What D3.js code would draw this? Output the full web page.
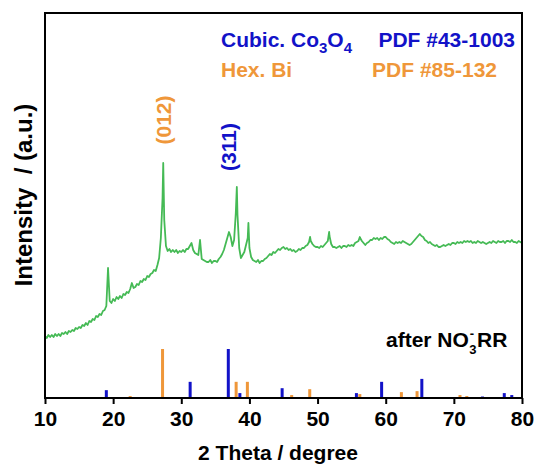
<!DOCTYPE html>
<html>
<head>
<meta charset="utf-8">
<script src="https://cdn.jsdelivr.net/npm/d3@7"></script>
<style>
  html, body { margin: 0; padding: 0; background: #fff; }
  svg { display: block; }
  text { font-family: "Liberation Sans", Arial, sans-serif; font-weight: bold; }
</style>
</head>
<body>
<svg id="chart" width="537" height="467"></svg>
<script>
// XRD pattern after NO3-RR, sampled every 0.25 degree from 10 to 80 (a.u.)
const thetaStart = 10;
const thetaStep = 0.25;
const intensity = [
  62, 60, 63, 61,
  63, 61, 64, 62,
  64, 62, 65, 64,
  66, 64, 67, 66,
  68, 67, 70, 69,
  71, 70, 73, 72,
  75, 73, 77, 76,
  79, 78, 82, 81,
  84, 83, 87, 88,
  92, 130, 97, 95,
  99, 97, 101, 99,
  102, 100, 104, 103,
  106, 105, 109, 115,
  110, 111, 114, 113,
  117, 116, 119, 118,
  122, 121, 124, 125,
  128, 127, 133, 140,
  160, 200, 178, 152,
  147, 149, 146, 148,
  146, 148, 145, 147,
  146, 148, 146, 149,
  149, 152, 155, 148,
  145, 144, 143, 158,
  139, 138, 137, 136,
  136, 138, 135, 137,
  137, 136, 139, 141,
  144, 148, 154, 160,
  166, 161, 152, 158,
  185, 183, 150, 140,
  143, 146, 153, 160,
  150, 141, 138, 137,
  136, 138, 135, 137,
  137, 139, 140, 142,
  144, 143, 146, 145,
  147, 149, 148, 150,
  151, 149, 150, 148,
  149, 147, 148, 146,
  147, 149, 148, 150,
  150, 152, 153, 156,
  157, 154, 152, 151,
  151, 150, 152, 151,
  153, 155, 157, 162,
  154, 151, 151, 150,
  151, 152, 150, 152,
  152, 151, 153, 152,
  153, 152, 155, 156,
  157, 160, 157, 155,
  153, 155, 156, 158,
  158, 160, 159, 160,
  158, 160, 159, 161,
  161, 159, 158, 156,
  155, 154, 156, 155,
  156, 155, 157, 156,
  155, 154, 153, 154,
  156, 158, 160, 162,
  164, 162, 161, 158,
  157, 155, 156, 154,
  153, 152, 153, 151,
  151, 152, 153, 152,
  153, 154, 153, 155,
  155, 154, 156, 155,
  156, 155, 157, 156,
  157, 156, 157, 155,
  156, 155, 157, 156,
  155, 156, 155, 154,
  155, 156, 155, 157,
  156, 155, 157, 156,
  156, 157, 155, 157,
  157, 156, 158, 156,
  156, 155, 157, 156,
  155
];

// Apex points of sharp reflections that fall between the sampled steps
const apexTheta = [27.35, 38.15, 39.85, 48.9, 51.7, 56.2];
const apexIntensity = [235, 211, 175, 161, 166, 161];

// Standard reference lines (relative intensity, %)
const co3o4Theta = [19.0, 31.3, 36.9, 38.6, 44.8, 55.7, 59.4, 65.3, 74.2, 77.4, 78.5];
const co3o4Rel = [16, 33, 100, 10, 20, 10, 33, 39, 3, 10, 6];
const biTheta = [22.5, 23.9, 27.25, 38.05, 39.7, 46.2, 48.85, 56.2, 61.4, 62.3, 64.6, 67.5, 70.9, 71.9];
const biRel = [4, 2, 100, 33, 33, 6, 18, 8, 2, 12, 14, 2, 6, 4];

const xTicks = [10, 20, 30, 40, 50, 60, 70, 80];

const colGreen = "#45ba55";
const colBlue = "#1212c8";
const colOrange = "#ef973a";

const svg = d3.select("#chart");
const frame = { left: 45, right: 522, top: 13, bottom: 398 };

const x = d3.scaleLinear().domain([10, 80]).range([frame.left, frame.right]);
const y = d3.scaleLinear().domain([0, 385]).range([frame.bottom, frame.top]);
const yRef = d3.scaleLinear().domain([0, 100]).range([frame.bottom, frame.bottom - 49]);

// Build the measured pattern
const pattern = intensity.map((v, i) => ({ t: thetaStart + i * thetaStep, v }));
apexTheta.forEach((t, i) => pattern.push({ t, v: apexIntensity[i] }));
pattern.sort((a, b) => a.t - b.t);

svg.append("path")
  .datum(pattern)
  .attr("fill", "none")
  .attr("stroke", colGreen)
  .attr("stroke-width", 1.8)
  .attr("stroke-linejoin", "round")
  .attr("d", d3.line().x(d => x(d.t)).y(d => y(d.v)));

// Reference bars
const refData = [
  ...biTheta.map((t, i) => ({ t, r: biRel[i], c: colOrange })),
  ...co3o4Theta.map((t, i) => ({ t, r: co3o4Rel[i], c: colBlue }))
];
svg.append("g").selectAll("rect")
  .data(refData)
  .join("rect")
  .attr("x", d => x(d.t) - 1.5)
  .attr("width", 3)
  .attr("y", d => yRef(d.r))
  .attr("height", d => yRef(0) - yRef(d.r))
  .attr("fill", d => d.c);

// Bottom axis
const xAxis = svg.append("g")
  .attr("transform", `translate(0,${frame.bottom})`)
  .call(d3.axisBottom(x).tickValues(xTicks).tickSize(6).tickSizeOuter(0).tickPadding(7));
xAxis.select(".domain").remove();
xAxis.selectAll(".tick line").attr("stroke", "#000").attr("stroke-width", 2);
xAxis.selectAll(".tick text")
  .attr("fill", "#000")
  .style("font-size", "21px")
  .style("font-family", '"Liberation Sans", Arial, sans-serif')
  .style("font-weight", "bold");

// Frame
svg.append("rect")
  .attr("x", frame.left)
  .attr("y", frame.top)
  .attr("width", frame.right - frame.left)
  .attr("height", frame.bottom - frame.top)
  .attr("fill", "none")
  .attr("stroke", "#000")
  .attr("stroke-width", 2);

// Axis titles
svg.append("text")
  .attr("x", 278)
  .attr("y", 460)
  .attr("text-anchor", "middle")
  .style("font-size", "21px")
  .text("2 Theta / degree");

svg.append("text")
  .attr("transform", "translate(32,195) rotate(-90)")
  .attr("text-anchor", "middle")
  .style("font-size", "24px")
  .style("white-space", "pre")
  .text("Intensity  / (a.u.)");

// Legend
const lg1 = svg.append("text").attr("x", 221).attr("y", 47).attr("fill", colBlue).style("font-size", "21px");
lg1.append("tspan").text("Cubic. Co");
lg1.append("tspan").attr("dy", 6).style("font-size", "15px").text("3");
lg1.append("tspan").attr("dy", -6).text("O");
lg1.append("tspan").attr("dy", 6).style("font-size", "15px").text("4");
svg.append("text").attr("x", 515).attr("y", 47).attr("text-anchor", "end")
  .attr("fill", colBlue).style("font-size", "21px").text("PDF #43-1003");

svg.append("text").attr("x", 221).attr("y", 77).attr("fill", colOrange)
  .style("font-size", "21px").text("Hex. Bi");
svg.append("text").attr("x", 497).attr("y", 77).attr("text-anchor", "end")
  .attr("fill", colOrange).style("font-size", "21px").text("PDF #85-132");

// Peak labels
svg.append("text")
  .attr("transform", `translate(${x(27.35) + 8},120) rotate(-90)`)
  .attr("text-anchor", "middle")
  .attr("fill", colOrange)
  .style("font-size", "21px")
  .text("(012)");
svg.append("text")
  .attr("transform", `translate(${x(36.9) + 8},147) rotate(-90)`)
  .attr("text-anchor", "middle")
  .attr("fill", colBlue)
  .style("font-size", "21px")
  .text("(311)");

// Sample label: NO3- with the charge stacked over the subscript
const sample = svg.append("text").attr("x", 386).attr("y", 347).style("font-size", "21px");
sample.append("tspan").text("after NO");
const minus = sample.append("tspan").attr("dx", 1).attr("dy", -9).style("font-size", "13px").text("-");
const minusW = minus.node().getComputedTextLength();
sample.append("tspan").attr("dx", -minusW - 0.5).attr("dy", 16).style("font-size", "13px").text("3");
sample.append("tspan").attr("dx", 0.5).attr("dy", -7).text("RR");
</script>
</body>
</html>
